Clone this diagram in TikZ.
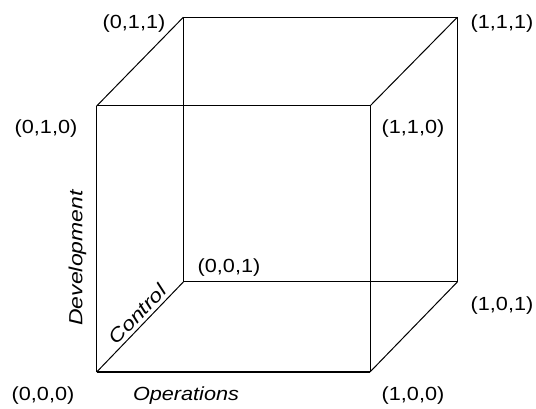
\documentclass[tikz,border=0pt]{standalone}
\usepackage{fontspec}
\setmainfont{Liberation Sans}[FakeStretch=1.14]
\begin{document}
\begin{tikzpicture}[x=1pt,y=1pt,
  edge/.style={draw=black,line width=1pt},
  baseedge/.style={draw=black,line width=2pt},
  corner/.style={font=\fontsize{19}{22}\selectfont,inner sep=0pt},
  axislabel/.style={font=\fontsize{19}{22}\selectfont\itshape,inner sep=0pt}]
\useasboundingbox (0,0) rectangle (536,409);
% cube vertices
\coordinate (p000) at (96.7,37);
\coordinate (p010) at (96.7,303);
\coordinate (p100) at (370,37);
\coordinate (p110) at (370,303);
\coordinate (p001) at (183.3,127);
\coordinate (p011) at (183.3,391.7);
\coordinate (p101) at (457.3,127);
\coordinate (p111) at (457.3,391.7);
% back face
\draw[edge] (p001) -- (p011) -- (p111) -- (p101) -- cycle;
% front face
\draw[edge] (p010) -- (p110) -- (p100);
\draw[edge] (p000) -- (p010);
\draw[baseedge] (p000) -- (p100);
% depth edges
\draw[edge] (p000) -- (p001);
\draw[edge] (p010) -- (p011);
\draw[edge] (p110) -- (p111);
\draw[edge] (p100) -- (p101);
% vertex labels
\node[corner] (l011) at (134,385) {(0,1,1)};
\node[corner] (l010) at (46,280) {(0,1,0)};
\node[corner] (l111) at (502,385) {(1,1,1)};
\node[corner] (l110) at (413,280) {(1,1,0)};
\node[corner] (l001) at (229,141) {(0,0,1)};
\node[corner] (l101) at (502,103) {(1,0,1)};
\node[corner] (l000) at (43,13) {(0,0,0)};
\node[corner] (l100) at (413,13) {(1,0,0)};
% axis labels
\node[axislabel] (ops) at (186,13) {Operations};
\node[axislabel,rotate=90] (dev) at (77.5,151) {\scalebox{1.06}[1]{Development}};
\node[axislabel,rotate=46] (ctl) at (137.5,95) {\scalebox{1.05}[1]{Control}};
\end{tikzpicture}
\end{document}
